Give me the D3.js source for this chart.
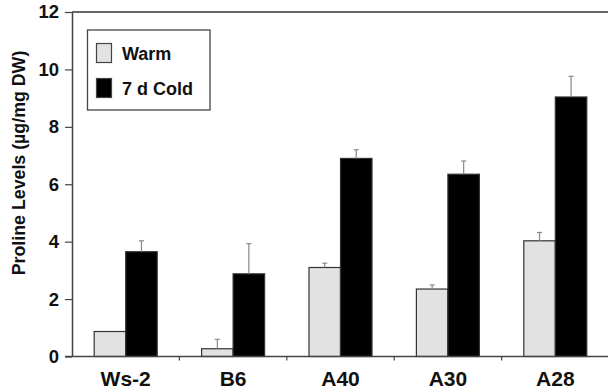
<!DOCTYPE html>
<html>
<head>
<meta charset="utf-8">
<script src="https://cdn.jsdelivr.net/npm/d3@7"></script>
<style>
  body { margin: 0; background: #fff; }
  text { font-family: "Liberation Sans", Arial, sans-serif; font-weight: bold; fill: #111; }
</style>
</head>
<body>
<script>
// data
const lines = ["Ws-2", "B6", "A40", "A30", "A28"];
const seriesNames = ["Warm", "7 d Cold"];
const warm = [0.87, 0.27, 3.1, 2.35, 4.03];
const warmErr = [0, 0.33, 0.15, 0.14, 0.29];
const cold = [3.65, 2.88, 6.9, 6.35, 9.04];
const coldErr = [0.38, 1.05, 0.3, 0.46, 0.72];
const yTicks = [0, 2, 4, 6, 8, 10, 12];

const width = 608, height = 392;
const margin = { left: 72, right: 0, top: 12, bottom: 35 };

const svg = d3.select("body").append("svg")
    .attr("width", width).attr("height", height);

const x = d3.scaleBand().domain(lines)
    .range([margin.left, 609]).paddingInner(0).paddingOuter(0);
const y = d3.scaleLinear().domain([0, 12]).range([height - 35.5, margin.top]);

const fills = ["#e2e2e2", "#000"];
const barW = 31.5;

const rows = lines.map((name, i) => ({
    name,
    vals: [{ s: 0, v: warm[i], e: warmErr[i] }, { s: 1, v: cold[i], e: coldErr[i] }]
}));

// top frame line
svg.append("line")
    .attr("x1", margin.left).attr("x2", width)
    .attr("y1", y(12)).attr("y2", y(12))
    .attr("stroke", "#333").attr("stroke-width", 1.5);

// bars
const groups = svg.selectAll("g.grp").data(rows).enter().append("g")
    .attr("class", "grp");

groups.selectAll("rect").data(d => d.vals.map(v => ({ ...v, name: d.name })))
    .enter().append("rect")
    .attr("x", d => x(d.name) + x.bandwidth() / 2 - barW + d.s * barW)
    .attr("y", d => y(d.v))
    .attr("width", barW)
    .attr("height", d => y(0) - y(d.v))
    .attr("fill", d => fills[d.s])
    .attr("stroke", "#333")
    .attr("stroke-width", 1.2);

// error bars (upper only)
const errs = groups.selectAll("g.err").data(d => d.vals.filter(v => v.e > 0).map(v => ({ ...v, name: d.name })))
    .enter().append("g").attr("class", "err");

errs.append("line")
    .attr("x1", d => x(d.name) + x.bandwidth() / 2 - barW / 2 + d.s * barW)
    .attr("x2", d => x(d.name) + x.bandwidth() / 2 - barW / 2 + d.s * barW)
    .attr("y1", d => y(d.v))
    .attr("y2", d => y(d.v + d.e))
    .attr("stroke", "#888").attr("stroke-width", 1.2);

errs.append("line")
    .attr("x1", d => x(d.name) + x.bandwidth() / 2 - barW / 2 + d.s * barW - 2.5)
    .attr("x2", d => x(d.name) + x.bandwidth() / 2 - barW / 2 + d.s * barW + 2.5)
    .attr("y1", d => y(d.v + d.e))
    .attr("y2", d => y(d.v + d.e))
    .attr("stroke", "#888").attr("stroke-width", 1.2);

// y axis
const yAxis = svg.append("g")
    .attr("transform", `translate(${margin.left},0)`)
    .call(d3.axisLeft(y).tickValues(yTicks).tickSize(7).tickPadding(6).tickSizeOuter(0));
yAxis.select(".domain").attr("stroke", "#444").attr("stroke-width", 1.5);
yAxis.selectAll(".tick line").attr("stroke", "#444").attr("stroke-width", 1.2);
yAxis.selectAll(".tick text")
    .style("font-size", "18.5px").style("font-family", "Liberation Sans, Arial, sans-serif")
    .style("font-weight", "bold").attr("fill", "#111");

// x axis: ticks at category boundaries
const xAxisG = svg.append("g").attr("transform", `translate(0,${y(0)})`);
xAxisG.append("line")
    .attr("x1", margin.left - 7).attr("x2", width)
    .attr("stroke", "#444").attr("stroke-width", 1.5);
xAxisG.selectAll("line.tk").data(lines.slice(1)).enter().append("line")
    .attr("class", "tk")
    .attr("x1", d => x(d)).attr("x2", d => x(d))
    .attr("y1", 0).attr("y2", 4)
    .attr("stroke", "#444").attr("stroke-width", 1.2);
xAxisG.selectAll("text").data(lines).enter().append("text")
    .attr("x", d => x(d) + x.bandwidth() / 2)
    .attr("y", 29.5)
    .attr("text-anchor", "middle")
    .style("font-size", "21px")
    .text(d => d);

// y label
svg.append("text")
    .attr("transform", "translate(25,163) rotate(-90)")
    .attr("text-anchor", "middle")
    .style("font-size", "17.8px")
    .text("Proline Levels (\u00b5g/mg DW)");

// legend
const lg = svg.append("g");
lg.append("rect")
    .attr("x", 87.5).attr("y", 30).attr("width", 122.5).attr("height", 80)
    .attr("fill", "#fff").attr("stroke", "#444").attr("stroke-width", 1.3);
seriesNames.forEach((name, i) => {
    lg.append("rect")
        .attr("x", 96.5).attr("y", 43.5 + i * 35).attr("width", 15).attr("height", 19)
        .attr("fill", fills[i]).attr("stroke", "#444").attr("stroke-width", 1.2);
    lg.append("text")
        .attr("x", 122).attr("y", 60 + i * 35)
        .style("font-size", "18px")
        .text(name);
});
</script>
</body>
</html>
